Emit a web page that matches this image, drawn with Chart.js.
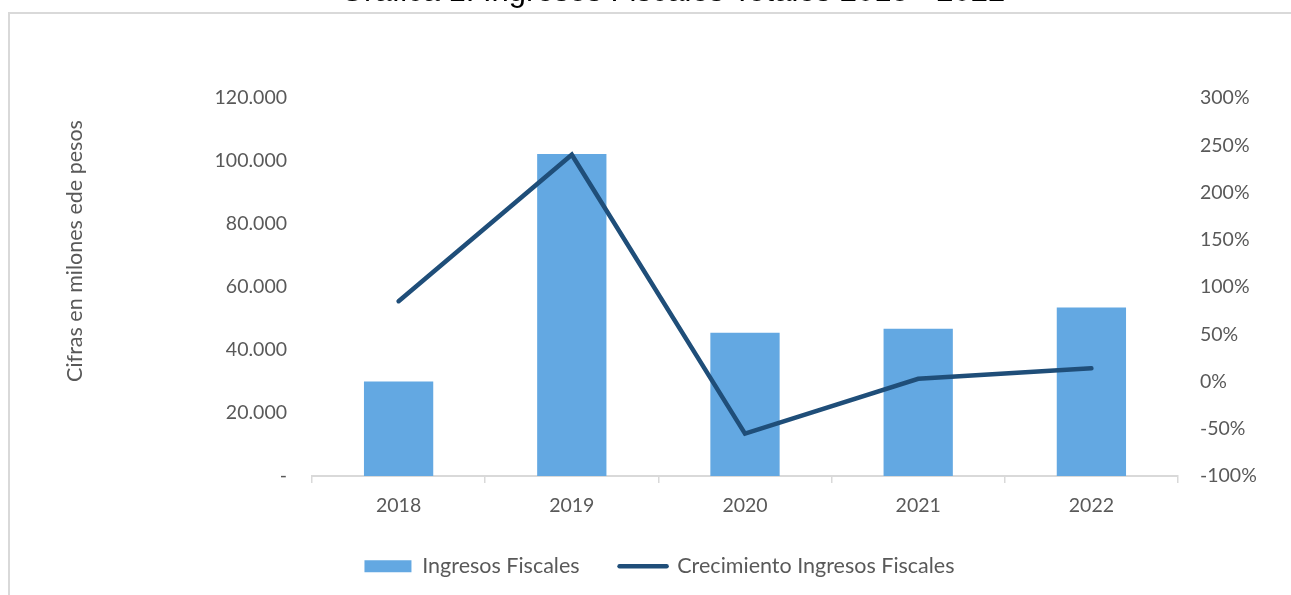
<!DOCTYPE html>
<html>
<head>
<meta charset="utf-8">
<script src="https://cdn.jsdelivr.net/npm/chart.js@4"></script>
<style>
    body { margin: 0; background: #ffffff; }
    #wrap { width: 1291px; height: 595px; position: relative; }
</style>
</head>
<body>
<div id="wrap"><canvas id="ingresosChart"></canvas></div>
<script>

/* DATOS */

const anios = ['2018', '2019', '2020', '2021', '2022'];
const ingresosFiscales = [30000, 102200, 45500, 46800, 53500];
const crecimiento = [85, 240, -55, 3, 14];
const ticksIzq = [0, 20000, 40000, 60000, 80000, 100000, 120000];
const ticksDer = [-100, -50, 0, 50, 100, 150, 200, 250, 300];

const tituloGrafica = 'Gráfica 1. Ingresos Fiscales Totales 2018 - 2022';
const tituloEjeY = 'Cifras en milones ede pesos';

const colorBarra = '#63A8E2';
const colorLinea = '#1F4E79';
const colorTexto = '#595959';
const colorEje = '#d9d9d9';
const fuente = 'Lato';

/* MARCO, TITULO Y TITULO DEL EJE */

const decoracion = {
    id: 'decoracion',
    beforeDraw(chart) {
        const ctx = chart.ctx;
        ctx.save();
        ctx.strokeStyle = colorEje;
        ctx.lineWidth = 2;
        ctx.beginPath();
        ctx.moveTo(9, 600);
        ctx.lineTo(9, 13);
        ctx.lineTo(1295, 13);
        ctx.stroke();

        ctx.fillStyle = '#000000';
        ctx.font = '31px "Liberation Sans"';
        ctx.textBaseline = 'alphabetic';
        ctx.textAlign = 'left';
        ctx.fillText(tituloGrafica, 340, 0.8);

        ctx.translate(75, 251);
        ctx.rotate(-Math.PI / 2);
        ctx.fillStyle = colorTexto;
        ctx.font = '21.5px ' + fuente;
        ctx.textAlign = 'center';
        ctx.textBaseline = 'middle';
        ctx.fillText(tituloEjeY, 0, 0);
        ctx.restore();
    }
};

/* GRAFICO */

new Chart(document.getElementById('ingresosChart'), {
    type: 'bar',
    data: {
        labels: anios,
        datasets: [{
            type: 'line',
            label: 'Crecimiento Ingresos Fiscales',
            data: crecimiento,
            yAxisID: 'y1',
            borderColor: colorLinea,
            backgroundColor: colorLinea,
            borderWidth: 4.5,
            borderCapStyle: 'round',
            borderJoinStyle: 'miter',
            tension: 0,
            pointRadius: 0,
            order: 0
        }, {
            type: 'bar',
            label: 'Ingresos Fiscales',
            data: ingresosFiscales,
            yAxisID: 'y',
            backgroundColor: colorBarra,
            barPercentage: 1,
            categoryPercentage: 0.4,
            order: 1
        }]
    },
    options: {
        responsive: true,
        maintainAspectRatio: false,
        animation: false,
        layout: {
            padding: { left: 28, right: 0, top: 98, bottom: 8 }
        },
        plugins: {
            tooltip: { enabled: false },
            legend: {
                position: 'bottom',
                labels: {
                    usePointStyle: true,
                    pointStyleWidth: 47,
                    boxHeight: 12,
                    padding: 40,
                    color: colorTexto,
                    font: { family: fuente, size: 21.5 },
                    generateLabels: () => [{
                        text: 'Ingresos Fiscales',
                        fillStyle: colorBarra,
                        strokeStyle: colorBarra,
                        lineWidth: 0,
                        pointStyle: 'rect',
                        fontColor: colorTexto,
                        datasetIndex: 1
                    }, {
                        text: 'Crecimiento Ingresos Fiscales',
                        fillStyle: colorLinea,
                        strokeStyle: colorLinea,
                        lineWidth: 4.5,
                        lineCap: 'round',
                        pointStyle: 'line',
                        fontColor: colorTexto,
                        datasetIndex: 0
                    }]
                }
            }
        },
        scales: {
            x: {
                offset: true,
                afterFit: scale => { scale.height -= 13; },
                grid: {
                    display: true,
                    offset: true,
                    drawOnChartArea: false,
                    drawTicks: true,
                    tickLength: 7,
                    color: colorEje,
                    lineWidth: 1.5
                },
                border: { display: true, color: colorEje, width: 2 },
                ticks: {
                    color: colorTexto,
                    padding: 11,
                    font: { family: fuente, size: 19.5 }
                }
            },
            y: {
                position: 'left',
                min: 0,
                max: 120000,
                afterBuildTicks: scale => {
                    scale.ticks = ticksIzq.map(v => ({ value: v }));
                },
                afterFit: scale => { scale.width = 284; },
                grid: { display: false, drawTicks: false },
                border: { display: false },
                ticks: {
                    color: colorTexto,
                    padding: 25,
                    font: { family: fuente, size: 19.5 },
                    callback: v => v === 0 ? '-' : v.toLocaleString('de-DE')
                }
            },
            y1: {
                position: 'right',
                min: -100,
                max: 300,
                afterBuildTicks: scale => {
                    scale.ticks = ticksDer.map(v => ({ value: v }));
                },
                afterFit: scale => { scale.width = 113; },
                grid: { display: false, drawTicks: false },
                border: { display: false },
                ticks: {
                    color: colorTexto,
                    padding: 22,
                    font: { family: fuente, size: 19.5 },
                    callback: v => v + '%'
                }
            }
        }
    },
    plugins: [decoracion]
});

</script>
</body>
</html>
